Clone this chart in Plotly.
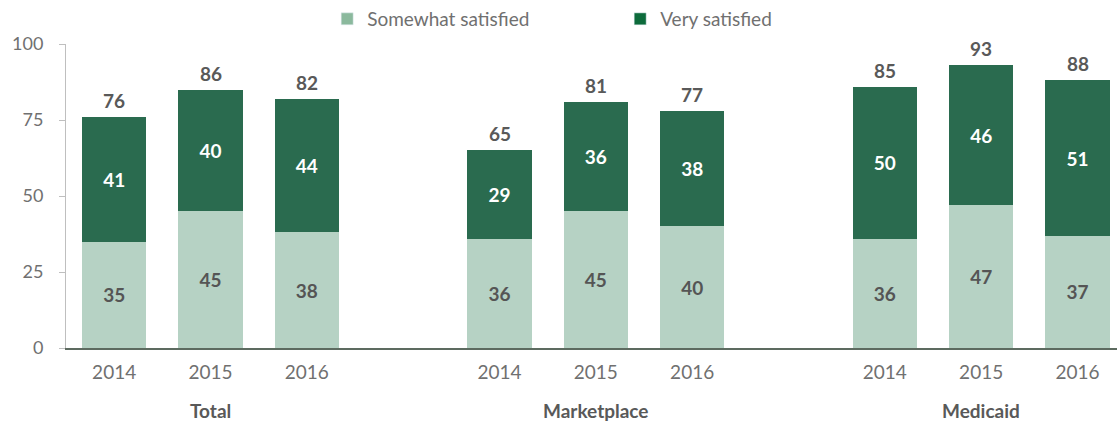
import plotly.graph_objects as go

groups = ["Total", "Marketplace", "Medicaid"]
years = ["2014", "2015", "2016"]
somewhat = [35, 45, 38, 36, 45, 40, 36, 47, 37]
very = [41, 40, 44, 29, 36, 38, 50, 46, 51]
totals = [76, 86, 82, 65, 81, 77, 85, 93, 88]
positions = [0, 1, 2, 4, 5, 6, 8, 9, 10]
year_labels = years * 3
group_centers = [1, 5, 9]
series_names = ["Somewhat satisfied", "Very satisfied"]

LIGHT = "#b6d2c4"
DARK = "#2a6b4f"
LEGEND_LIGHT = "#8bb99d"
LEGEND_DARK = "#0d6b3b"
FONT = "Lato"

fig = go.Figure()
fig.add_trace(go.Bar(
    x=positions, y=somewhat, name=series_names[0], showlegend=False,
    marker=dict(color=LIGHT, line=dict(width=0)), width=0.665,
    text=somewhat, textposition="inside", insidetextanchor="middle",
    textfont=dict(family=FONT, size=19, color="#555555", weight="bold"),
    textangle=0,
))
fig.add_trace(go.Bar(
    x=positions, y=very, name=series_names[1], showlegend=False,
    marker=dict(color=DARK, line=dict(width=0)), width=0.665,
    text=very, textposition="inside", insidetextanchor="middle",
    textfont=dict(family=FONT, size=19, color="white", weight="bold"),
    textangle=0,
))
# legend entries (legend swatches are drawn in a deeper tint in the original)
for nm, col in zip(series_names, [LEGEND_LIGHT, LEGEND_DARK]):
    fig.add_trace(go.Bar(x=[None], y=[None], name=nm, marker=dict(color=col),
                         showlegend=True, hoverinfo="skip"))

for xp, s, v, t in zip(positions, somewhat, very, totals):
    fig.add_annotation(x=xp, y=s + v, text=f"<b>{t}</b>", showarrow=False,
                       yanchor="bottom", yshift=3,
                       font=dict(family=FONT, size=19, color="#595959"))

for xp, g in zip(group_centers, groups):
    fig.add_annotation(x=xp, y=-0.204, xref="x", yref="paper", text=f"<b>{g}</b>",
                       showarrow=False, yanchor="middle",
                       font=dict(family=FONT, size=19, color="#595959"))

fig.update_layout(
    width=1117, height=422,
    margin=dict(l=66, r=0, t=44, b=74),
    barmode="stack",
    plot_bgcolor="white", paper_bgcolor="white",
    font=dict(family=FONT, size=18, color="#707070"),
    showlegend=True,
    legend=dict(orientation="h", x=0.2485, xanchor="left", y=1.145, yanchor="top",
                font=dict(family=FONT, size=19, color="#707070"),
                entrywidth=248, entrywidthmode="pixels", traceorder="normal"),
)
fig.update_xaxes(
    range=[-0.5, 10.41], tickvals=positions, ticktext=year_labels,
    showgrid=False, zeroline=False, showline=True, linecolor="#5d6b60", linewidth=2,
    ticks="outside", ticklen=6, tickcolor="rgba(0,0,0,0)",
    tickfont=dict(family=FONT, size=19, color="#707070"),
)
fig.update_yaxes(
    range=[0, 100], tickvals=[0, 25, 50, 75, 100],
    showgrid=False, zeroline=False, showline=True, linecolor="#bfbfbf", linewidth=1,
    ticks="outside", ticklen=6, tickcolor="#bfbfbf",
    ticklabelstandoff=12,
    tickfont=dict(family=FONT, size=18, color="#707070"),
)
fig.write_html("out.html", config={"displayModeBar": False},
               post_script="document.body.style.margin='0';")
